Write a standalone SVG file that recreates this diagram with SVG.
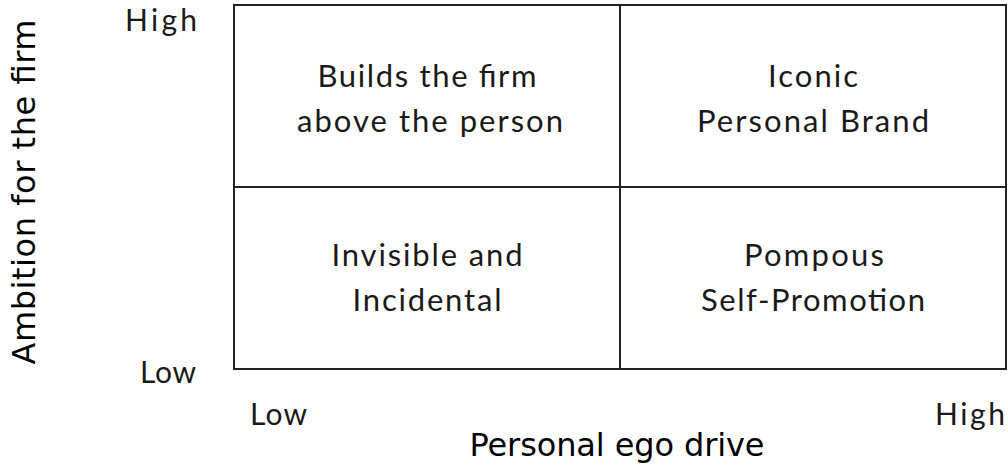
<svg xmlns="http://www.w3.org/2000/svg" width="1008" height="468" viewBox="0 0 1008 468">
<style>
.q{font-family:"Lato","Open Sans","DejaVu Sans",sans-serif;font-size:31px;fill:#1a1a1a;text-anchor:middle}
.t{font-family:"Lato","Open Sans","DejaVu Sans",sans-serif;font-size:30px;fill:#1a1a1a}
.ax{font-family:"DejaVu Sans","Liberation Sans",sans-serif;font-size:32px;fill:#000;text-anchor:middle}
.ln{stroke:#222;stroke-width:2;fill:none}
</style>
<rect width="1008" height="468" fill="#fff"/>
<g id="grid">
<rect class="ln" x="234" y="5" width="772" height="364"/>
</g>
<g id="connectors">
<line class="ln" x1="620" y1="5" x2="620" y2="369"/>
<line class="ln" x1="234" y1="187" x2="1006" y2="187"/>
</g>
<g id="q-top-left"><text class="q" x="427" y="87" textLength="219" lengthAdjust="spacing">Builds the firm</text><text class="q" x="430" y="132" textLength="266" lengthAdjust="spacing">above the person</text></g>
<g id="q-top-right"><text class="q" x="813" y="87" textLength="90" lengthAdjust="spacing">Iconic</text><text class="q" x="813" y="132" textLength="232" lengthAdjust="spacing">Personal Brand</text></g>
<g id="q-bottom-left"><text class="q" x="427" y="266" textLength="191" lengthAdjust="spacing">Invisible and</text><text class="q" x="427" y="311" textLength="149" lengthAdjust="spacing">Incidental</text></g>
<g id="q-bottom-right"><text class="q" x="814" y="266" textLength="140" lengthAdjust="spacing">Pompous</text><text class="q" x="813" y="311" textLength="224" lengthAdjust="spacing">Self-Promotion</text></g>
<g id="ticks">
<text class="t" x="125" y="31" textLength="72" lengthAdjust="spacing">High</text>
<text class="t" x="140" y="383" textLength="56" lengthAdjust="spacing">Low</text>
<text class="t" x="250" y="425" textLength="57" lengthAdjust="spacing">Low</text>
<text class="t" x="935" y="425" textLength="70" lengthAdjust="spacing">High</text>
</g>
<g id="y-axis-label"><text class="ax" transform="translate(35,192) rotate(-90)" textLength="345" lengthAdjust="spacing">Ambition for the firm</text></g>
<g id="x-axis-label"><text class="ax" x="617" y="456" textLength="295" lengthAdjust="spacing">Personal ego drive</text></g>
</svg>
